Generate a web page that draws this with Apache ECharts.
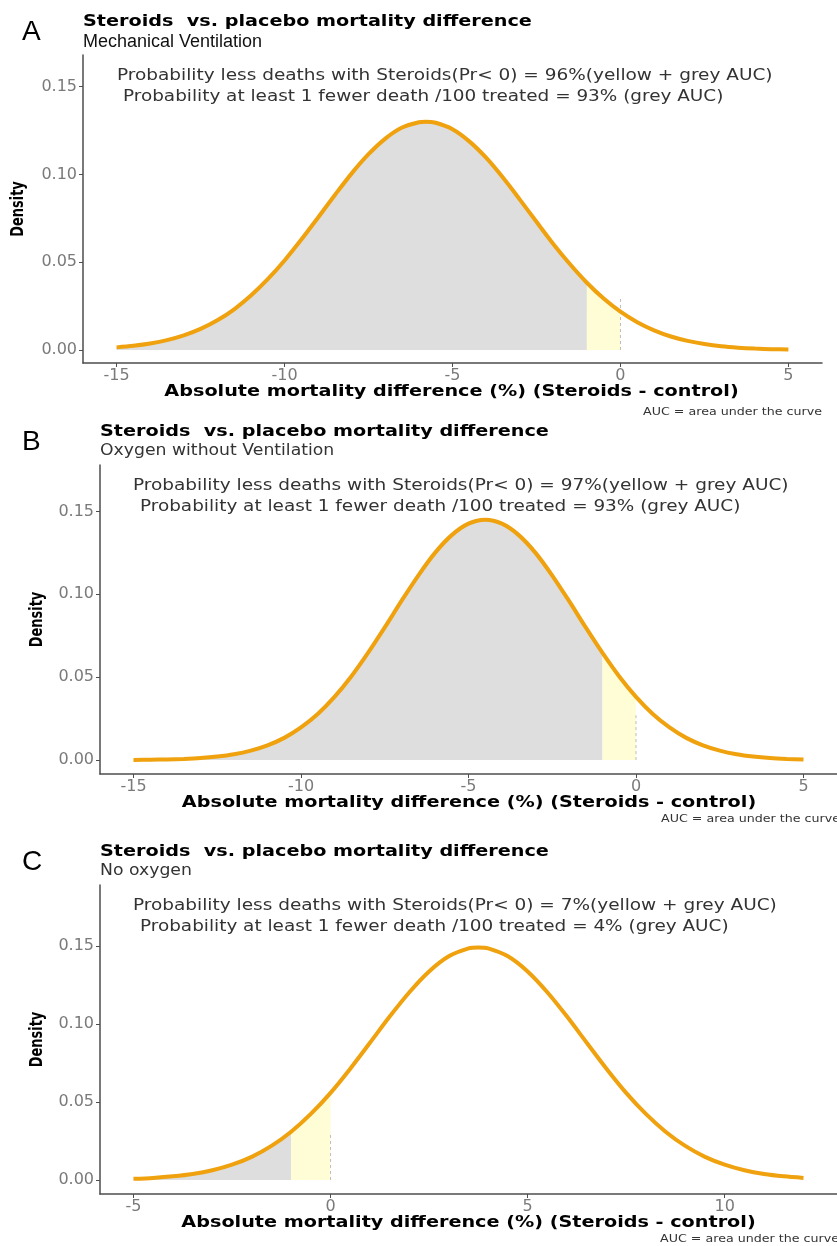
<!DOCTYPE html>
<html>
<head>
<meta charset="utf-8">
<script src="https://cdn.jsdelivr.net/npm/echarts@6/dist/echarts.min.js"></script>
<style>
  html, body { margin: 0; padding: 0; background: #fff; }
  #chart { width: 837px; height: 1246px; }
</style>
</head>
<body>
<div id="chart"></div>
<script>
// values
var xA = [-15,-14.5,-14,-13.5,-13,-12.5,-12,-11.5,-11,-10.5,-10,-9.5,-9,-8.5,-8,-7.5,-7,-6.5,-6,-5.8,-5.5,-5,-4.5,-4,-3.5,-3,-2.5,-2,-1.5,-1,-0.5,0,0.5,1,1.5,2,2.5,3,3.5,4,4.5,5];
var densA = [0.0015,0.0024,0.0037,0.0056,0.0083,0.0120,0.0169,0.0232,0.0310,0.0403,0.0510,0.0629,0.0755,0.0883,0.1006,0.1115,0.1204,0.1267,0.1297,0.1300,0.1294,0.1257,0.1188,0.1095,0.0982,0.0858,0.0730,0.0604,0.0488,0.0383,0.0293,0.0218,0.0158,0.0112,0.0077,0.0052,0.0034,0.0021,0.0013,0.0008,0.0005,0.0003];

var xB = [-15,-14.5,-14,-13.5,-13,-12.5,-12,-11.5,-11,-10.5,-10,-9.5,-9,-8.5,-8,-7.5,-7,-6.5,-6,-5.5,-5,-4.5,-4,-3.5,-3,-2.5,-2,-1.5,-1,-0.5,0,0.5,1,1.5,2,2.5,3,3.5,4,4.5,5];
var densB = [0.0001,0.0002,0.0004,0.0007,0.0012,0.0021,0.0035,0.0057,0.0089,0.0134,0.0197,0.0278,0.0381,0.0504,0.0646,0.0800,0.0960,0.1113,0.1250,0.1357,0.1426,0.1450,0.1426,0.1357,0.1250,0.1113,0.0960,0.0800,0.0646,0.0504,0.0381,0.0278,0.0197,0.0134,0.0089,0.0057,0.0035,0.0021,0.0012,0.0007,0.0004];

var xC = [-5,-4.5,-4,-3.5,-3,-2.5,-2,-1.5,-1,-0.5,0,0.5,1,1.5,2,2.5,3,3.5,3.75,4,4.5,5,5.5,6,6.5,7,7.5,8,8.5,9,9.5,10,10.5,11,11.5,12];
var densC = [0.0007,0.0013,0.0023,0.0038,0.0062,0.0098,0.0148,0.0218,0.0309,0.0423,0.0558,0.0713,0.0879,0.1047,0.1203,0.1336,0.1433,0.1484,0.1490,0.1484,0.1433,0.1336,0.1203,0.1047,0.0879,0.0713,0.0558,0.0423,0.0309,0.0218,0.0148,0.0098,0.0062,0.0038,0.0023,0.0013];

var ticksAB = [-15,-10,-5,0,5];
var ticksC = [-5,0,5,10];
var yTicks = [0,0.05,0.10,0.15];

var greyEnd = -1;       // grey AUC: everything below -1
var yellowEnd = 0;      // yellow AUC: -1 .. 0
var dashTop = [0.030, 0.027, 0.030];

var panelLetters = ['A','B','C'];
var subtitles = ['Mechanical Ventilation','Oxygen without Ventilation','No oxygen'];
var probAll = ['96%','97%','7%'];
var probOne = ['93%','93%','4%'];

var mainTitle = 'Steroids  vs. placebo mortality difference';
var xName = 'Absolute mortality difference (%) (Steroids - control)';
var note = 'AUC = area under the curve';

var myChart = echarts.init(document.getElementById('chart'));

function pairs(xs, ys) {
    return xs.map(function (x, i) { return [x, ys[i]]; });
}

// text stretched sideways like the (widened) original image
function txt(text, x, y, font, fill, align, sx, rot) {
    return {
        type: 'text', x: x, y: y, scaleX: sx || 1, rotation: rot || 0,
        style: {text: text, x: 0, y: 0, font: font, fill: fill, align: align || 'left', verticalAlign: 'middle'}
    };
}

var panels = [
    {xs: xA, ys: densA, ticks: ticksAB, xmin: -16, xmax: 6, ymin: -0.0074, ymax: 0.168, left: 83, width: 739, top: 55, height: 308},
    {xs: xB, ys: densB, ticks: ticksAB, xmin: -16, xmax: 6, ymin: -0.0084, ymax: 0.178, left: 100, width: 740, top: 465, height: 309},
    {xs: xC, ys: densC, ticks: ticksC, xmin: -5.85, xmax: 12.85, ymin: -0.009, ymax: 0.189, left: 100, width: 739, top: 885, height: 309}
];

var axisColor = '#4d4d4d';
var grids = [], xAxes = [], yAxes = [], series = [], graphics = [];

panels.forEach(function (p, i) {
    grids.push({left: p.left, top: p.top, width: p.width, height: p.height, containLabel: false});
    xAxes.push({
        type: 'value', gridIndex: i, min: p.xmin, max: p.xmax,
        axisLine: {show: true, onZero: false, lineStyle: {color: axisColor, width: 1.5}},
        axisTick: {show: true, customValues: p.ticks, length: 4, lineStyle: {color: axisColor}},
        axisLabel: {customValues: p.ticks, color: '#7a7a7a', fontSize: 16, fontFamily: 'DejaVu Sans', margin: 5},
        splitLine: {show: false}
    });
    yAxes.push({
        type: 'value', gridIndex: i, min: p.ymin, max: p.ymax,
        axisLine: {show: true, onZero: false, lineStyle: {color: axisColor, width: 1.5}},
        axisTick: {show: true, customValues: yTicks, length: 4, lineStyle: {color: axisColor}},
        axisLabel: {customValues: yTicks, color: '#7a7a7a', fontSize: 16, fontFamily: 'DejaVu Sans', margin: 6,
            formatter: function (v) { return v.toFixed(2); }},
        splitLine: {show: false}
    });

    var all = pairs(p.xs, p.ys);
    var grey = all.filter(function (d) { return d[0] <= greyEnd; });
    var yellow = all.filter(function (d) { return d[0] >= greyEnd && d[0] <= yellowEnd; });

    series.push({
        type: 'line', xAxisIndex: i, yAxisIndex: i, data: grey, smooth: 0.3, symbol: 'none',
        lineStyle: {width: 0}, areaStyle: {color: '#dedede', opacity: 1}, z: 1, silent: true
    });
    series.push({
        type: 'line', xAxisIndex: i, yAxisIndex: i, data: yellow, smooth: 0.3, symbol: 'none',
        lineStyle: {width: 0}, areaStyle: {color: '#fefdd6', opacity: 1}, z: 1, silent: true
    });
    series.push({
        type: 'line', xAxisIndex: i, yAxisIndex: i, data: [[yellowEnd, 0], [yellowEnd, dashTop[i]]], symbol: 'none',
        lineStyle: {color: '#bdbdbd', width: 1, type: [3, 3]}, z: 2, silent: true
    });
    series.push({
        type: 'line', xAxisIndex: i, yAxisIndex: i, data: all, smooth: 0.3, symbol: 'none',
        lineStyle: {color: '#efa10e', width: 4}, z: 3, silent: true
    });

    // texts around the panel
    var top = p.top, bottom = p.top + p.height, right = p.left + p.width;
    graphics.push(txt(panelLetters[i], 22, top - 23, '28px "Liberation Sans", Arial, sans-serif', '#000'));
    graphics.push(txt(mainTitle, p.left, top - 33, 'bold 16px "DejaVu Sans", sans-serif', '#000', 'left', 1.2));
    if (i === 0) {
        graphics.push(txt(subtitles[i], p.left, top - 13, '18px "Liberation Sans", Arial, sans-serif', '#111'));
    } else {
        graphics.push(txt(subtitles[i], p.left, top - 14, '15px "DejaVu Sans", sans-serif', '#333', 'left', 1.15));
    }
    graphics.push(txt('Probability less deaths with Steroids(Pr< 0) = ' + probAll[i] + '(yellow + grey AUC)',
        p.left + (i === 0 ? 34 : 33), top + 21, '16px "DejaVu Sans", sans-serif', '#333', 'left', 1.155));
    graphics.push(txt('Probability at least 1 fewer death /100 treated = ' + probOne[i] + ' (grey AUC)',
        p.left + 40, top + 42, '16px "DejaVu Sans", sans-serif', '#333', 'left', 1.15));
    graphics.push(txt('Density', i === 0 ? 18 : 37, top + p.height / 2,
        'bold 18px "Liberation Sans Narrow", "DejaVu Sans Condensed", sans-serif', '#000', 'center', 0.8, Math.PI / 2));
    graphics.push(txt(xName, p.left + p.width / 2 - 1, bottom + 29, 'bold 16px "DejaVu Sans", sans-serif', '#000', 'center', 1.2));
    graphics.push(txt(note, right, bottom + (i === 0 ? 49 : 45), '11px "DejaVu Sans", sans-serif', '#333', 'right', 1.15));
});

var option = {
    animation: false,
    backgroundColor: '#fff',
    grid: grids,
    xAxis: xAxes,
    yAxis: yAxes,
    series: series,
    graphic: graphics
};
myChart.setOption(option);
</script>
</body>
</html>
